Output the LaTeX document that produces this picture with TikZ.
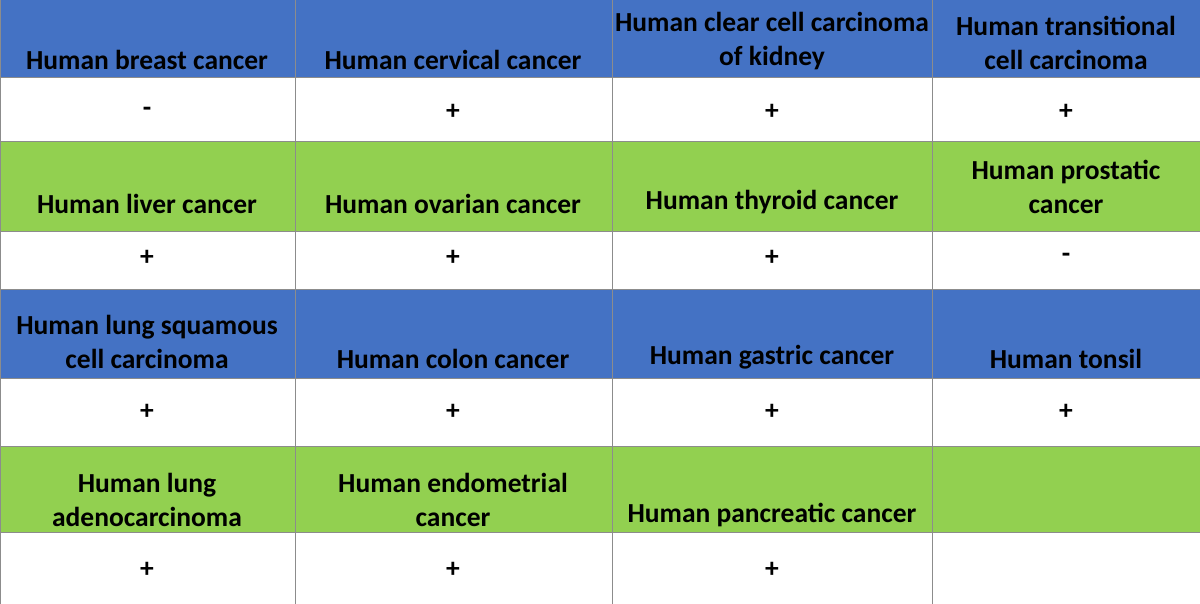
\documentclass[tikz,border=0pt]{standalone}
\usepackage{fontspec}
\setmainfont{Carlito}
\definecolor{hdblue}{HTML}{4472C4}
\definecolor{hdgreen}{HTML}{92D050}
\definecolor{gridgray}{HTML}{8C8C8C}
\begin{document}
\begin{tikzpicture}[x=1pt,y=-1pt,
  head/.style={anchor=south,align=center,font=\bfseries\fontsize{27.5}{34}\selectfont,inner sep=0pt},
  sign/.style={anchor=center,font=\bfseries\fontsize{27.5}{30}\selectfont,inner sep=0pt}]
\useasboundingbox (0,0) rectangle (1200,604);

% row bands
\fill[hdblue] (0,0) rectangle (1200,78);
\fill[hdgreen] (0,142) rectangle (1200,232);
\fill[hdblue] (0,290) rectangle (1200,378);
\fill[hdgreen] (0,446) rectangle (1200,532);

% grid
\foreach \y in {0,78,142,232,290,378,446,532,604}
  \draw[gridgray,line width=1pt] (0,\y) -- (1200,\y);
\foreach \x in {0,295,612,932,1200}
  \draw[gridgray,line width=1pt] (\x,0) -- (\x,604);

% headers
\node[head] (h11) at (147,70) {Human breast cancer};
\node[head] (h12) at (453,70) {Human cervical cancer};
\node[head] (h13) at (772,70) {Human clear cell carcinoma\\of kidney};
\node[head] (h14) at (1066,70) {Human transitional\\cell carcinoma};
\node[head] (h21) at (147,214) {Human liver cancer};
\node[head] (h22) at (453,214) {Human ovarian cancer};
\node[head] (h23) at (772,214) {Human thyroid cancer};
\node[head] (h24) at (1066,214) {Human prostatic\\cancer};
\node[head] (h31) at (147,369) {Human lung squamous\\cell carcinoma};
\node[head] (h32) at (453,369) {Human colon cancer};
\node[head] (h33) at (772,369) {Human gastric cancer};
\node[head] (h34) at (1066,369) {Human tonsil};
\node[head] (h41) at (147,527) {Human lung\\adenocarcinoma};
\node[head] (h42) at (453,527) {Human endometrial\\cancer};
\node[head] (h43) at (772,527) {Human pancreatic cancer};

% signs
\node[sign] (m11) at (147,112) {-};
\node[sign] (m12) at (453,112) {+};
\node[sign] (m13) at (772,112) {+};
\node[sign] (m14) at (1066,112) {+};
\node[sign] (m21) at (147,258) {+};
\node[sign] (m22) at (453,258) {+};
\node[sign] (m23) at (772,258) {+};
\node[sign] (m24) at (1066,258) {-};
\node[sign] (m31) at (147,412) {+};
\node[sign] (m32) at (453,412) {+};
\node[sign] (m33) at (772,412) {+};
\node[sign] (m34) at (1066,412) {+};
\node[sign] (m41) at (147,570) {+};
\node[sign] (m42) at (453,570) {+};
\node[sign] (m43) at (772,570) {+};
\end{tikzpicture}
\end{document}
